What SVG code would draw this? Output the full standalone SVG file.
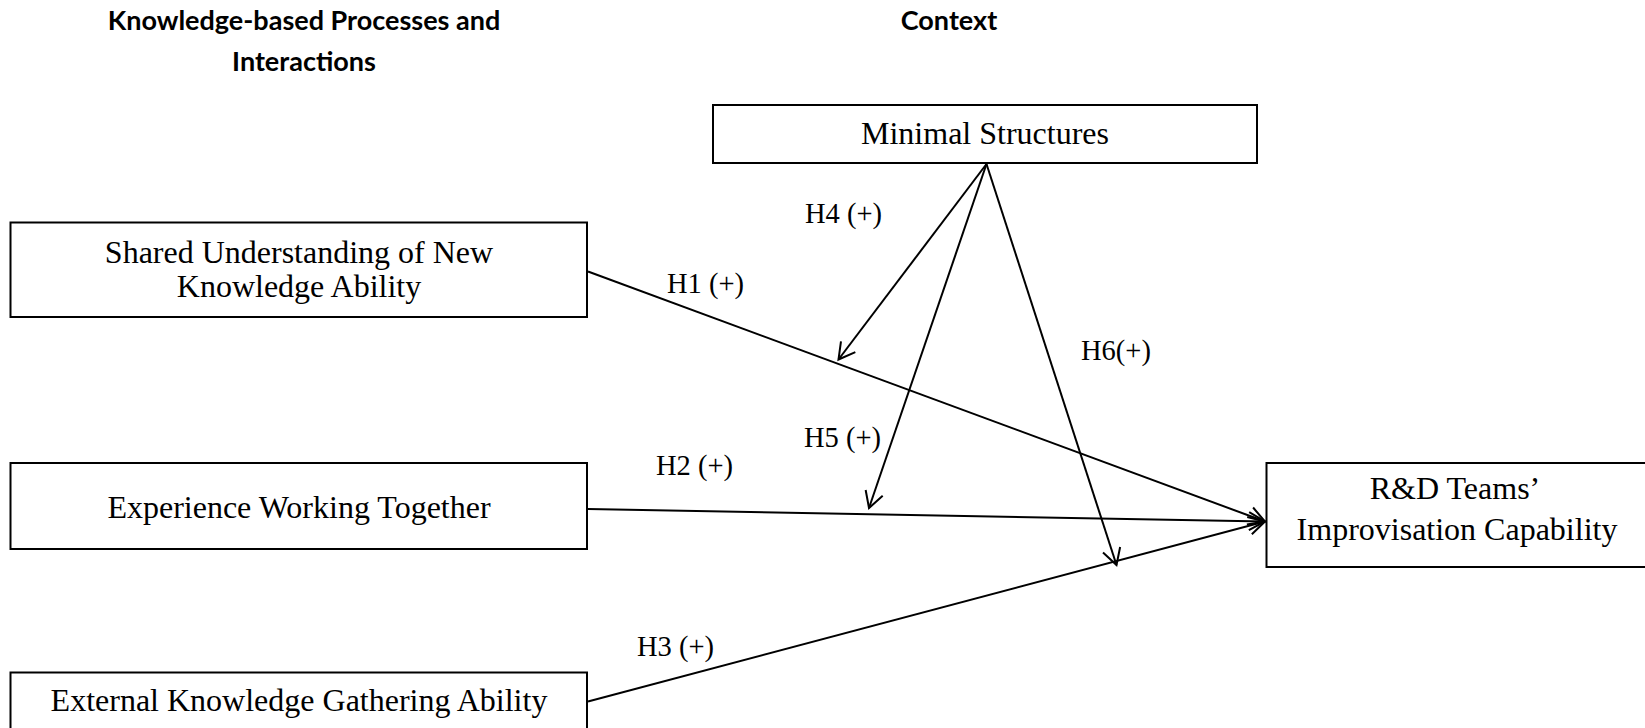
<svg xmlns="http://www.w3.org/2000/svg" width="1645" height="728" viewBox="0 0 1645 728">
<style>
.box{fill:#fff;stroke:#000;stroke-width:2}
.nt{font-family:"Liberation Serif","Times New Roman",serif;font-size:32px;fill:#000;text-anchor:middle}
.lb{font-family:"Liberation Serif","Times New Roman",serif;font-size:28.5px;fill:#000}
.hd{font-family:Lato,"Open Sans",sans-serif;font-weight:bold;font-size:27px;fill:#000;text-anchor:middle}
.cn{fill:none;stroke:#000;stroke-width:2}
</style>
<defs>
<marker id="ah" markerUnits="userSpaceOnUse" markerWidth="40" markerHeight="40" refX="0" refY="0" viewBox="-20 -20 40 40" orient="auto" overflow="visible">
<path d="M-16,-9 L0,0 L-16,9" fill="none" stroke="#000" stroke-width="2"/>
</marker>
</defs>
<rect width="1645" height="728" fill="#fff"/>
<g id="headers">
<text class="hd" x="304" y="30">Knowledge-based Processes and</text>
<text class="hd" x="304" y="71">Interactions</text>
<text class="hd" x="949" y="30">Context</text>
</g>
<g id="connectors">
<line class="cn" x1="588" y1="271.5" x2="1265" y2="521.5" marker-end="url(#ah)"/>
<line class="cn" x1="588" y1="509" x2="1265" y2="521.5" marker-end="url(#ah)"/>
<line class="cn" x1="588" y1="701.5" x2="1265" y2="521.5" marker-end="url(#ah)"/>
<line class="cn" x1="986.5" y1="164" x2="838.5" y2="359.5" marker-end="url(#ah)"/>
<line class="cn" x1="986.5" y1="164" x2="869" y2="508" marker-end="url(#ah)"/>
<line class="cn" x1="986.5" y1="164" x2="1116.5" y2="565" marker-end="url(#ah)"/>
<text class="lb" x="805" y="223">H4 (+)</text>
<text class="lb" x="667" y="293">H1 (+)</text>
<text class="lb" x="1081" y="360">H6(+)</text>
<text class="lb" x="804" y="447">H5 (+)</text>
<text class="lb" x="656" y="475">H2 (+)</text>
<text class="lb" x="637" y="656">H3 (+)</text>
</g>
<g id="node-minimal">
<rect class="box" x="713" y="105" width="544" height="58"/>
<text class="nt" x="985" y="144">Minimal Structures</text>
</g>
<g id="node-shared">
<rect class="box" x="10.5" y="222.5" width="576.5" height="94.5"/>
<text class="nt" x="299" y="263">Shared Understanding of New</text>
<text class="nt" x="299" y="297">Knowledge Ability</text>
</g>
<g id="node-experience">
<rect class="box" x="10.5" y="463" width="576.5" height="86"/>
<text class="nt" x="299" y="518">Experience Working Together</text>
</g>
<g id="node-external">
<rect class="box" x="10.5" y="672.5" width="576.5" height="80"/>
<text class="nt" x="299" y="711">External Knowledge Gathering Ability</text>
</g>
<g id="node-rd">
<rect class="box" x="1266.5" y="463" width="400" height="104"/>
<text class="nt" x="1455" y="499">R&amp;D Teams’</text>
<text class="nt" x="1457" y="540">Improvisation Capability</text>
</g>
</svg>
